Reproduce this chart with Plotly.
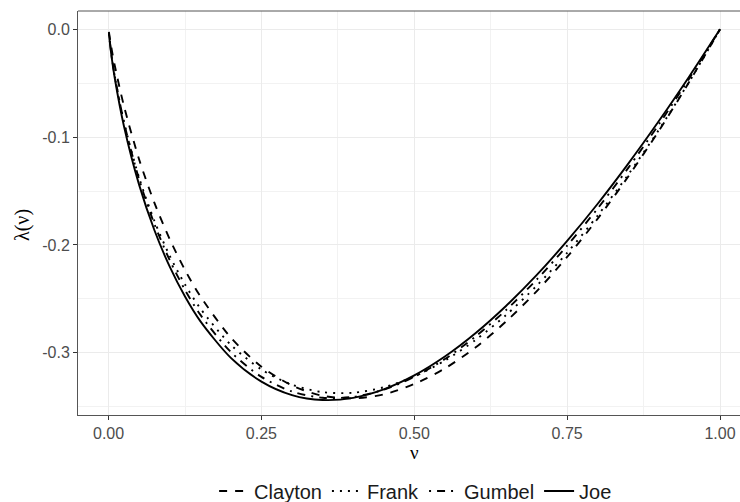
import plotly.graph_objects as go

nu = [0.0005, 0.005, 0.01, 0.025, 0.05, 0.075, 0.1, 0.125, 0.15, 0.2, 0.25, 0.3, 0.35,
      0.4, 0.45, 0.5, 0.55, 0.6, 0.65, 0.7, 0.75, 0.8, 0.85, 0.9, 0.95, 1.0]

clayton = [-0.0023, -0.0183, -0.0333, -0.0708, -0.1207, -0.1610, -0.1947, -0.2233, -0.2476,
           -0.2860, -0.3130, -0.3304, -0.3400, -0.3424, -0.3387, -0.3290, -0.3146, -0.2952,
           -0.2711, -0.2431, -0.2112, -0.1756, -0.1365, -0.0941, -0.0485, 0.0]
frank = [-0.0036, -0.0250, -0.0432, -0.0856, -0.1378, -0.1778, -0.2101, -0.2367, -0.2589,
         -0.2927, -0.3156, -0.3297, -0.3366, -0.3372, -0.3321, -0.3221, -0.3073, -0.2883,
         -0.2651, -0.2380, -0.2073, -0.1727, -0.1347, -0.0932, -0.0483, 0.0]
gumbel = [-0.0035, -0.0246, -0.0428, -0.0858, -0.1393, -0.1807, -0.2142, -0.2418, -0.2647,
          -0.2994, -0.3224, -0.3360, -0.3418, -0.3410, -0.3343, -0.3224, -0.3059, -0.2851,
          -0.2605, -0.2323, -0.2007, -0.1661, -0.1285, -0.0882, -0.0453, 0.0]
joe = [-0.0037, -0.0259, -0.0449, -0.0894, -0.1443, -0.1864, -0.2202, -0.2479, -0.2707,
       -0.3048, -0.3268, -0.3393, -0.3439, -0.3419, -0.3340, -0.3211, -0.3036, -0.2820,
       -0.2567, -0.2281, -0.1963, -0.1618, -0.1246, -0.0851, -0.0435, 0.0]

series_names = ["Clayton", "Frank", "Gumbel", "Joe"]
series_values = [clayton, frank, gumbel, joe]
dashes = ["8px,8px", "2px,6px", "2px,6px,8px,6px", "solid"]

x_ticks = [0.0, 0.25, 0.5, 0.75, 1.0]
x_ticklabels = ["0.00", "0.25", "0.50", "0.75", "1.00"]
x_minor = [0.125, 0.375, 0.625, 0.875]
y_ticks = [0.0, -0.1, -0.2, -0.3]
y_ticklabels = ["0.0", "-0.1", "-0.2", "-0.3"]

fig = go.Figure()
for name, vals, dash in zip(series_names, series_values, dashes):
    fig.add_trace(go.Scatter(
        x=nu, y=vals, name=name, mode="lines",
        line=dict(color="black", width=1.9, dash=dash, shape="spline", smoothing=0.8),
    ))

font_family = "Liberation Sans, Arial, sans-serif"

fig.update_layout(
    width=740, height=502,
    margin=dict(l=78, r=0, t=11, b=87, autoexpand=False),
    paper_bgcolor="white", plot_bgcolor="white",
    font=dict(family=font_family, size=16, color="#4d4d4d"),
    showlegend=True,
    legend=dict(
        orientation="h", x=0.51, xanchor="center", y=(415 - 491) / 404, yanchor="middle",
        font=dict(size=20, color="#1a1a1a"), itemwidth=30,
        bgcolor="rgba(0,0,0,0)",
    ),
    xaxis=dict(
        range=[-0.05, 1.0327], tickvals=x_ticks, ticktext=x_ticklabels,
        showgrid=True, gridcolor="#ebebeb", gridwidth=1,
        minor=dict(tickvals=x_minor, showgrid=True, gridcolor="#f2f2f2", gridwidth=0.6),
        showline=True, linecolor="#555555", linewidth=1, mirror=False,
        ticks="outside", ticklen=4, tickcolor="#333333", tickwidth=1,
        tickfont=dict(size=16, color="#4d4d4d"),
        zeroline=False,
    ),
    yaxis=dict(
        range=[-0.3578, 0.017], tickvals=y_ticks, ticktext=y_ticklabels,
        showgrid=True, gridcolor="#ebebeb", gridwidth=1,
        minor=dict(dtick=0.05, tick0=0, showgrid=True, gridcolor="#f2f2f2", gridwidth=0.6),
        showline=True, linecolor="#555555", linewidth=1, mirror=False,
        ticks="outside", ticklen=4, tickcolor="#333333", tickwidth=1,
        tickfont=dict(size=16, color="#4d4d4d"),
        zeroline=False,
    ),
    shapes=[
        dict(type="line", xref="paper", yref="paper", x0=0, x1=1, y0=1, y1=1,
             line=dict(color="#555555", width=1)),
    ],
    annotations=[
        dict(text="ν", xref="paper", yref="paper", x=(414 - 78) / 662, y=(415 - 452) / 404,
             showarrow=False, xanchor="center", yanchor="middle",
             font=dict(family="Liberation Serif, serif", size=19, color="black")),
        dict(text="λ(ν)", xref="paper", yref="paper", x=(22 - 78) / 662, y=(415 - 225) / 404,
             showarrow=False, xanchor="center", yanchor="middle", textangle=-90,
             font=dict(family="Liberation Serif, serif", size=20, color="black")),
    ],
)

fig.write_html("out.html")
